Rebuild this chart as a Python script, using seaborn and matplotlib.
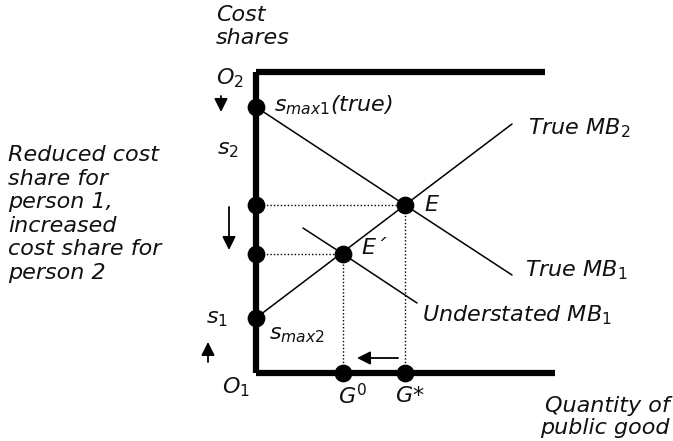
import matplotlib
matplotlib.use('Agg')
import matplotlib.pyplot as plt
import pandas as pd
import seaborn as sns

sns.set_style('white')
plt.rcParams['font.family'] = ['DejaVu Sans']
plt.rcParams['mathtext.fontset'] = 'dejavusans'

# Diagram data (origin O1 at bottom-left corner of the box)
box_top = 301
top_axis_end = 289
bottom_axis_end = 299

mb1_x = [0, 149, 256]          # True MB1: from s_max1 through E
mb1_y = [266, 168, 98]
mb2_x = [0, 149, 256]          # True MB2: from s_max2 through E
mb2_y = [55, 168, 249]
under_x = [47, 87, 161]        # Understated MB1 through E'
under_y = [145, 119, 70]

eq_x = [149, 87]               # E, E'
eq_y = [168, 119]
axis_dot_y = [266, 168, 119, 55]
g_x = [87, 149]                # G0, G*

fig, ax = plt.subplots(figsize=(6.73, 4.41), dpi=100)
fig.subplots_adjust(left=0, right=1, bottom=0, top=1)
ax.set_xlim(-256, 417)
ax.set_ylim(-68, 373)
ax.axis('off')

# box axes
ax.plot([0, 0], [0, box_top], color='black', lw=4.5, solid_capstyle='butt')
ax.plot([0, top_axis_end], [box_top, box_top], color='black', lw=4.5, solid_capstyle='butt')
ax.plot([0, bottom_axis_end], [0, 0], color='black', lw=4.5, solid_capstyle='butt')

# curves
sns.lineplot(x=mb1_x, y=mb1_y, ax=ax, color='black', lw=1.1, sort=False)
sns.lineplot(x=mb2_x, y=mb2_y, ax=ax, color='black', lw=1.1, sort=False)
sns.lineplot(x=under_x, y=under_y, ax=ax, color='black', lw=1.1, sort=False)

# dotted guides
for x, y in zip(eq_x, eq_y):
    ax.plot([0, x], [y, y], color='black', lw=1, ls=(0, (1, 1.5)))
    ax.plot([x, x], [0, y], color='black', lw=1, ls=(0, (1, 1.5)))

# dots
dots = pd.DataFrame({
    'x': eq_x + [0] * len(axis_dot_y) + g_x,
    'y': eq_y + axis_dot_y + [0] * len(g_x),
})
sns.scatterplot(data=dots, x='x', y='y', ax=ax, color='black', s=140,
                edgecolor='black', zorder=5, legend=False)

# arrows
arrow = dict(arrowstyle='-|>,head_length=0.8,head_width=0.4', color='black', lw=1.3,
             shrinkA=0, shrinkB=0)
ax.annotate('', xy=(-35, 261), xytext=(-35, 277), arrowprops=arrow)
ax.annotate('', xy=(-27, 123), xytext=(-27, 166), arrowprops=arrow)
ax.annotate('', xy=(-48, 31), xytext=(-48, 11), arrowprops=arrow)
ax.annotate('', xy=(101, 15), xytext=(142, 15), arrowprops=arrow)

fs = 16
txt = dict(fontsize=fs, style='italic', color='#111111')
ax.text(-40, 368, 'Cost\nshares', va='top', ha='left', linespacing=1.2, **txt)
ax.text(-40, 295, r'$O_2$', va='center', ha='left', **txt)
ax.text(18, 268, r'$s_{max1}$(true)', va='center', ha='left', **txt)
ax.text(-39, 223, r'$s_2$', va='center', ha='left', **txt)
ax.text(272, 245, r'True $MB_2$', va='center', ha='left', **txt)
ax.text(168, 168, 'E', va='center', ha='left', **txt)
ax.text(105, 125, 'E´', va='center', ha='left', **txt)
ax.text(269, 103, r'True $MB_1$', va='center', ha='left', **txt)
ax.text(166, 58, r'Understated $MB_1$', va='center', ha='left', **txt)
ax.text(-50, 54, r'$s_1$', va='center', ha='left', **txt)
ax.text(13, 38, r'$s_{max2}$', va='center', ha='left', **txt)
ax.text(-34, -14, r'$O_1$', va='center', ha='left', **txt)
ax.text(82, -23, r'$G^0$', va='center', ha='left', **txt)
ax.text(139, -23, r'$G$*', va='center', ha='left', **txt)
ax.text(414, -44, 'Quantity of\npublic good', va='center', ha='right', linespacing=1.1, **txt)
ax.text(-248, 228, 'Reduced cost\nshare for\nperson 1,\nincreased\ncost share for\nperson 2',
        va='top', ha='left', linespacing=1.22, **txt)

fig.savefig('out.png', dpi=100)
